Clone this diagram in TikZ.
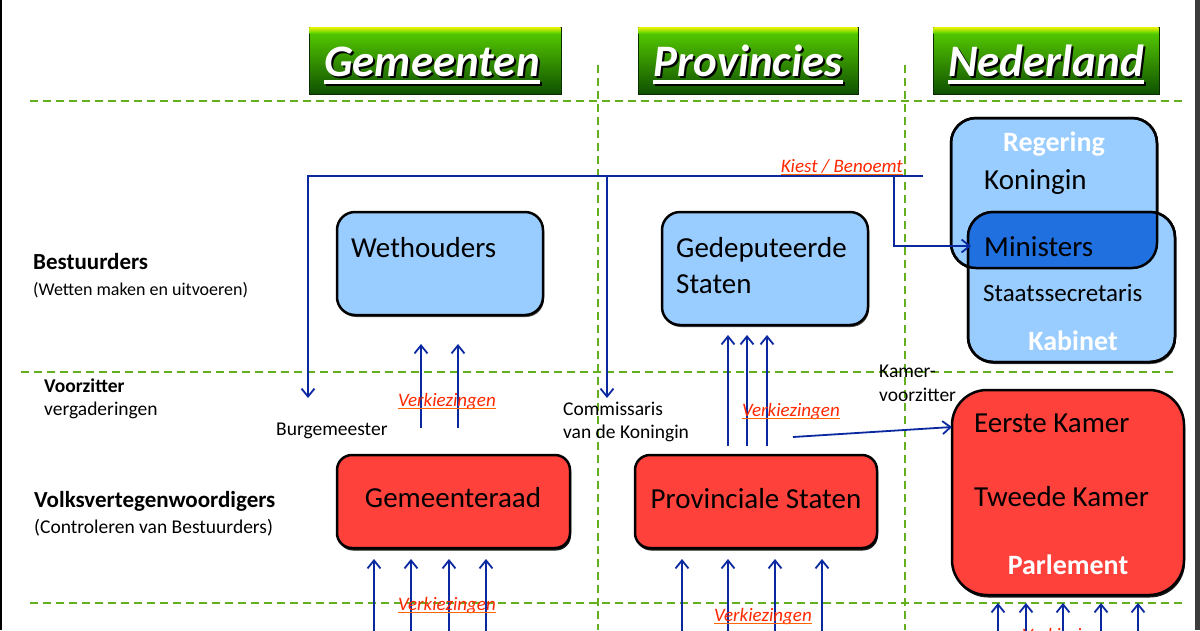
\documentclass[tikz,border=0pt]{standalone}
\usepackage{fontspec}
\setmainfont{Carlito}
\usetikzlibrary{arrows.meta,shadows}
\newcommand\fsz[1]{\fontsize{#1}{#1}\selectfont}
\definecolor{dgreen}{RGB}{100,175,30}
\definecolor{lblue}{RGB}{153,204,255}
\definecolor{ovblue}{RGB}{32,112,224}
\definecolor{rbox}{RGB}{255,65,60}
\definecolor{arrblue}{RGB}{10,40,160}
\definecolor{vred}{RGB}{255,40,0}
\definecolor{uorange}{RGB}{255,100,0}
\definecolor{hgtop}{RGB}{90,210,0}
\definecolor{hgbot}{RGB}{15,80,0}
\definecolor{hyel}{RGB}{230,240,0}
\definecolor{bandgray}{RGB}{60,60,60}
\begin{document}
\begin{tikzpicture}[x=1pt,y=-1pt,
  gridline/.style={dgreen, line width=1.8pt, dash pattern=on 8pt off 5pt},
  box/.style={rectangle, outer sep=0pt, inner sep=0pt, draw=black, line width=2.5pt},
  bluebox/.style={box, fill=lblue, drop shadow={shadow xshift=1pt,shadow yshift=-2pt,opacity=0.7,fill=black}},
  redbox/.style={box, fill=rbox, drop shadow={shadow xshift=1pt,shadow yshift=-2.5pt,opacity=0.9,fill=black}},
  hbox/.style={rectangle, outer sep=0pt, inner sep=0pt, draw={rgb,255:red,10;green,45;blue,0}, line width=0.8pt, top color=hgtop, bottom color=hgbot, minimum height=67pt},
  htext/.style={anchor=base, inner sep=0pt, font=\fsz{45}\bfseries\itshape, text=white},
  hshadow/.style={anchor=base, inner sep=0pt, font=\fsz{45}\bfseries\itshape, text=black},
  lbl/.style={inner sep=0pt, anchor=base west, text=black},
  big/.style={lbl, font=\fsz{29}},
  wlbl/.style={anchor=base, inner sep=0pt, font=\fsz{28}\bfseries, text=white},
  small/.style={lbl, font=\fsz{19.5}},
  vk/.style={anchor=base, inner sep=0pt, font=\fsz{19}\itshape, text=vred},
  ul/.style={uorange, line width=1.3pt},
  varr/.style={arrblue, line width=1.8pt, -{Straight Barb[length=8pt,width=13pt]}},
]
\useasboundingbox (0,0) rectangle (1200,630);
\clip (0,0) rectangle (1200,630);
\fill[white] (0,0) rectangle (1200,630);

% grid
\draw[gridline] (30,101) -- (1183,101);
\draw[gridline] (21,372) -- (1173,372);
\draw[gridline] (30,603) -- (1183,603);
\draw[gridline] (598,65) -- (598,630);
\draw[gridline] (905,65) -- (905,630);

% headers
\node[hbox, minimum width=252pt] (hg) at (435,60.5) {};
\node[hbox, minimum width=220pt] (hp) at (748,60.5) {};
\node[hbox, minimum width=226pt] (hn) at (1046,60.5) {};
\foreach \h in {hg,hp,hn}{
  \shade[top color=hyel, bottom color=hgtop] ([xshift=0.4pt,yshift=-0.4pt]\h.north west) rectangle ([xshift=-0.4pt,yshift=-6pt]\h.north east);
}
\node[hshadow] (hgs) at (434,78) {Gemeenten};
\node[hshadow] (hps) at (750,78) {Provincies};
\node[hshadow] (hns) at (1048,78) {Nederland};
\foreach \h in {hgs,hps,hns}{
  \draw[black, line width=3.5pt] ([yshift=-6pt]\h.base west) -- ([yshift=-6pt]\h.base east);
}
\node[htext] (hgt) at (432,76) {Gemeenten};
\node[htext] (hpt) at (748,76) {Provincies};
\node[htext] (hnt) at (1046,76) {Nederland};
\foreach \h in {hgt,hpt,hnt}{
  \draw[white, line width=3.5pt] ([yshift=-6pt]\h.base west) -- ([yshift=-6pt]\h.base east);
}

% blue boxes
\node[bluebox, rounded corners=18pt, minimum width=206pt, minimum height=103pt] (weth) at (440,263.5) {};
\node[bluebox, rounded corners=18pt, minimum width=206pt, minimum height=113pt] (gede) at (765,268.5) {};
\node[bluebox, rounded corners=25pt, minimum width=206pt, minimum height=150pt] (reg) at (1054,193) {};
\node[bluebox, rounded corners=25pt, minimum width=207pt, minimum height=150pt] (kab) at (1071.5,287) {};
\begin{scope}
  \clip[rounded corners=25pt] (reg.south west) rectangle (reg.north east);
  \fill[ovblue, rounded corners=25pt] (kab.south west) rectangle (kab.north east);
\end{scope}
\draw[black, line width=2.5pt, rounded corners=25pt] (reg.south west) rectangle (reg.north east);
\draw[black, line width=2.5pt, rounded corners=25pt] (kab.south west) rectangle (kab.north east);

% red boxes
\node[redbox, rounded corners=15pt, minimum width=233pt, minimum height=93pt] (gr) at (453.5,501.5) {};
\node[redbox, rounded corners=15pt, minimum width=242pt, minimum height=93pt] (ps) at (756,501.5) {};
\node[redbox, rounded corners=35pt, minimum width=232pt, minimum height=205pt] (parl) at (1068,492.5) {};

% box texts
\node[big] (tweth) at (351,257) {Wethouders};
\node[big] (tgede1) at (676,257) {Gedeputeerde};
\node[big] (tgede2) at (676,293) {Staten};
\node[wlbl] (treg) at (1054,151) {Regering};
\node[big] (tkon) at (984,189) {Koningin};
\node[big] (tmin) at (984,256) {Ministers};
\node[lbl, font=\fsz{25}] (tsta) at (983,301) {Staatssecretaris};
\node[wlbl] (tkab) at (1073,350) {Kabinet};
\node[big] (teer) at (974,432) {Eerste Kamer};
\node[big] (ttwe) at (974,506) {Tweede Kamer};
\node[wlbl] (tpar) at (1068,574) {Parlement};
\node[anchor=base, inner sep=0pt, font=\fsz{29}] (tgr) at (453,507) {Gemeenteraad};
\node[anchor=base, inner sep=0pt, font=\fsz{29}] (tps) at (756,508) {Provinciale Staten};

% left labels
\node[lbl, font=\fsz{23}\bfseries] (lbest) at (33,269) {Bestuurders};
\node[lbl, font=\fsz{18}] (lbest2) at (33,295) {(Wetten maken en uitvoeren)};
\node[lbl, font=\fsz{19.5}\bfseries] (lvoor) at (44,392) {Voorzitter};
\node[small] (lvoor2) at (44,415) {vergaderingen};
\node[lbl, font=\fsz{23}\bfseries] (lvolk) at (34,507) {Volksvertegenwoordigers};
\node[small] (lvolk2) at (34,533) {(Controleren van Bestuurders)};
\node[small] (lburg) at (276,435) {Burgemeester};
\node[small] (lcom1) at (563,415) {Commissaris};
\node[small] (lcom2) at (563,438) {van de Koningin};
\node[small] (lkam1) at (879,377) {Kamer-};
\node[small] (lkam2) at (879,401) {voorzitter};

% Kiest / Benoemt connectors
\coordinate (kR) at (923,176);
\coordinate (kL) at (308,176);
\coordinate (kM) at (607,176);
\coordinate (kB) at (894,176);
\coordinate (burgA) at (308,398);
\coordinate (comA) at (607,398);
\coordinate (minA) at (971,246);
\draw[varr] (kR) -- (kL) -- (burgA);
\draw[varr] (kM) -- (comA);
\draw[varr] (kB) |- (minA);

% Kamervoorzitter arrow
\coordinate (kamS) at (793,437);
\coordinate (kamE) at (952,427);
\draw[varr] (kamS) -- (kamE);

% election arrows
\foreach \x [count=\i] in {421,458}{
  \coordinate (wa\i) at (\x,428); \coordinate (wb\i) at (\x,344);
  \draw[varr] (wa\i) -- (wb\i);
}
\foreach \x [count=\i] in {728,747,767}{
  \coordinate (ga\i) at (\x,446); \coordinate (gb\i) at (\x,335);
  \draw[varr] (ga\i) -- (gb\i);
}
\foreach \x [count=\i] in {374,411,449,486}{
  \coordinate (ra\i) at (\x,640); \coordinate (rb\i) at (\x,559);
  \draw[varr] (ra\i) -- (rb\i);
}
\foreach \x [count=\i] in {682,728,775,822}{
  \coordinate (pa\i) at (\x,640); \coordinate (pb\i) at (\x,559);
  \draw[varr] (pa\i) -- (pb\i);
}
\foreach \x [count=\i] in {998,1026,1063,1101,1138}{
  \coordinate (na\i) at (\x,640); \coordinate (nb\i) at (\x,603);
  \draw[varr] (na\i) -- (nb\i);
}

% red labels
\node[vk, anchor=base east] (kiest) at (903,172) {Kiest / Benoemt};
\node[vk] (v1) at (447,406) {Verkiezingen};
\node[vk] (v2) at (791,416) {Verkiezingen};
\node[vk] (v3) at (447,610) {Verkiezingen};
\node[vk] (v4) at (763,621) {Verkiezingen};
\node[vk, anchor=base west] (v5) at (1022,641) {Verkiezingen};
\foreach \n in {kiest,v1,v2,v3,v4,v5}{
  \draw[ul] ([yshift=-2.5pt]\n.base west) -- ([yshift=-2.5pt]\n.base east);
}

% page edges
\draw[black, line width=1.5pt] (1,0) -- (1,630);
\fill[bandgray] (1195,0) rectangle (1200,630);
\end{tikzpicture}
\end{document}
